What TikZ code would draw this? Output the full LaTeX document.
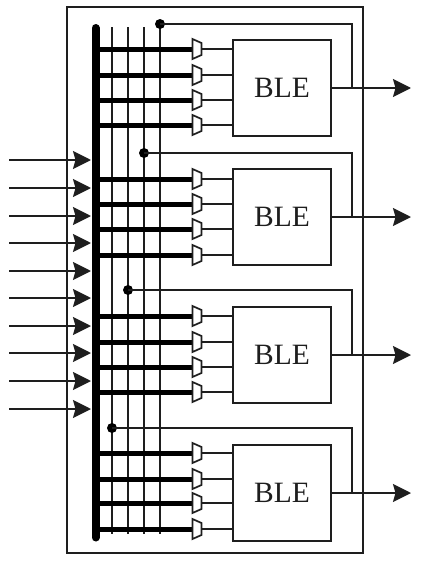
\documentclass[tikz,border=0pt]{standalone}
\usepackage{fontspec}
\setmainfont{Liberation Serif}
\usetikzlibrary{arrows.meta,calc}
\definecolor{ink}{HTML}{1E1E1E}
\tikzset{
  wire/.style={draw=ink,line width=1.9pt},
  thickbus/.style={draw=black,line width=5pt},
  mainbus/.style={draw=black,line width=8pt,line cap=round},
  arrowwire/.style={wire,-{Stealth[length=18pt,width=18pt,inset=2.5pt]}},
  ble/.style={draw=ink,line width=1.9pt,fill=white,minimum width=98pt,minimum height=96pt,inner sep=0pt,font=\fontsize{29.5}{29.5}\selectfont,text=ink},
  frame/.style={draw=ink,line width=1.9pt,minimum width=296pt,minimum height=546pt,inner sep=0pt},
  muxbox/.style={rectangle,draw=none,minimum width=9pt,minimum height=20pt,inner sep=0pt,outer sep=0pt},
  muxshape/.style={draw=ink,line width=1.7pt,fill=white,line join=miter},
  junction/.style={circle,fill=black,inner sep=0pt,minimum size=10pt}
}
\begin{document}
\begin{tikzpicture}[x=1pt,y=-1pt]
\useasboundingbox (0,0) rectangle (426,562);
\node[frame] (outer) at (215,280) {};
\coordinate (bustop) at (95.5,28);
\coordinate (busbot) at (95.5,537.5);
% thin vertical lines
\foreach \n/\x in {a/112,b/128,c/144,d/160}{
  \coordinate (\n top) at (\x,27);
  \coordinate (\n bot) at (\x,534);
  \draw[wire] (\n top) -- (\n bot);
}
% inputs
\foreach \i/\y in {1/160,2/188,3/216,4/243,5/271,6/298,7/326,8/353,9/381,10/409}{
  \coordinate (in\i) at (9,\y);
  \coordinate (inend\i) at (91,\y);
  \draw[arrowwire] (in\i) -- (inend\i);
}
% logic blocks
\foreach \k/\ctr/\ya/\yb/\yc/\yd/\dx/\dy/\tapx in {
  1/88/49/75/100/125/160/24/352,
  2/217/179/204/229/255/144/153/352,
  3/355/316/342/367/392/128/290/352,
  4/493/453/479/503/529/112/428/352}{
  \node[ble] (ble\k) at (282,\ctr) {BLE};
  \foreach \j/\y in {1/\ya,2/\yb,3/\yc,4/\yd}{
    \coordinate (start\k\j) at (95.5,\y);
    \node[muxbox] (mux\k\j) at (197,\y) {};
    \draw[thickbus] (start\k\j) -- (mux\k\j.west);
    \draw[muxshape] (mux\k\j.north west) -- ($(mux\k\j.north east)+(0,4)$) -- ($(mux\k\j.south east)+(0,-4)$) -- (mux\k\j.south west) -- cycle;
    \coordinate (pin\k\j) at (233,\y);
    \draw[wire] (mux\k\j.east) -- (pin\k\j);
  }
  \coordinate (tip\k) at (411,\ctr);
  \draw[arrowwire] (ble\k.east) -- (tip\k);
  \node[junction] (dot\k) at (\dx,\dy) {};
  \coordinate (tap\k) at (\tapx,\ctr);
  \draw[wire] (dot\k.center) -- (dot\k.center -| tap\k) -- (tap\k);
}
\draw[mainbus] (bustop) -- (busbot);
\end{tikzpicture}
\end{document}
